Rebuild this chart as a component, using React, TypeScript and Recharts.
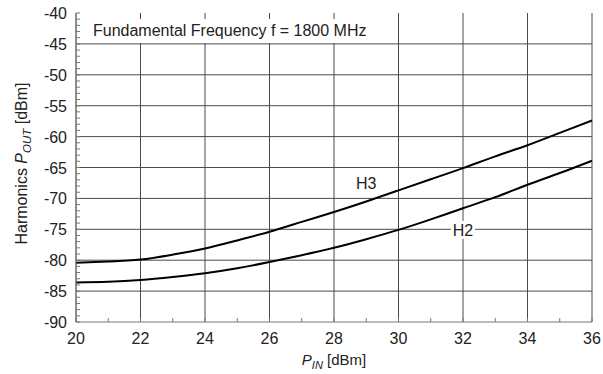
import { LineChart, Line, XAxis, YAxis, CartesianGrid, ReferenceDot, ReferenceLine } from 'recharts';

// P_IN [dBm]
const pin = [20, 21, 22, 23, 24, 25, 26, 27, 28, 29, 30, 31, 32, 33, 34, 35, 36];
// harmonic output levels [dBm]
const h2 = [-83.6, -83.5, -83.2, -82.7, -82.1, -81.3, -80.3, -79.2, -78.0, -76.6, -75.1, -73.4, -71.6, -69.8, -67.8, -65.9, -63.9];
const h3 = [-80.4, -80.2, -79.9, -79.1, -78.1, -76.8, -75.4, -73.8, -72.2, -70.5, -68.7, -66.9, -65.1, -63.2, -61.4, -59.4, -57.4];

const xMajor = [20, 22, 24, 26, 28, 30, 32, 34, 36];
const yMajor = [-90, -85, -80, -75, -70, -65, -60, -55, -50, -45, -40];
const xMinor = pin;
const yMinor = Array.from({ length: 51 }, (_, i) => -90 + i);

const data = pin.map((p, i) => ({ pin: p, h2: h2[i], h3: h3[i] }));

const FONT = '"Liberation Sans", Arial, sans-serif';
const GRID = '#4a4a4a';
const FRAME = '#777';

const BottomTick = ({ x, y, payload }: any) => {
  const v = payload.value;
  return (
    <g>
      <line x1={x} x2={x} y1={y} y2={y - 4} stroke={FRAME} />
      {v % 2 === 0 && (
        <text x={x} y={y + 22} textAnchor="middle" fontSize={16} fontFamily={FONT} fill="#222">
          {v}
        </text>
      )}
    </g>
  );
};

const LeftTick = ({ x, y, payload }: any) => {
  const v = payload.value;
  return (
    <g>
      <line x1={x} x2={x + 4} y1={y} y2={y} stroke={FRAME} />
      {v % 5 === 0 && (
        <text x={x - 9} y={y + 6} textAnchor="end" fontSize={16} fontFamily={FONT} fill="#222">
          {v}
        </text>
      )}
    </g>
  );
};

const TopTick = ({ x, y }: any) => <line x1={x} x2={x} y1={y} y2={y + 4} stroke={FRAME} />;
const RightTick = ({ x, y }: any) => <line x1={x} x2={x - 4} y1={y} y2={y} stroke={FRAME} />;

const XTitle = ({ viewBox }: any) => (
  <text x={viewBox.x + viewBox.width / 2} y={viewBox.y + 43} textAnchor="middle" fontSize={15} fontFamily={FONT} fill="#222">
    <tspan fontStyle="italic">P</tspan>
    <tspan fontStyle="italic" fontSize={11} dy={4}>IN</tspan>
    <tspan dy={-4}> [dBm]</tspan>
  </text>
);

const YTitle = ({ viewBox }: any) => {
  const cx = 27;
  const cy = viewBox.y + viewBox.height / 2 - 4;
  return (
    <text x={cx} y={cy} transform={`rotate(-90, ${cx}, ${cy})`} textAnchor="middle" fontSize={16} fontFamily={FONT} fill="#222">
      Harmonics <tspan fontStyle="italic">P</tspan>
      <tspan fontStyle="italic" fontSize={11.5} dy={4}>OUT</tspan>
      <tspan dy={-4}> [dBm]</tspan>
    </text>
  );
};

const CurveLabel = (text: string) => ({ viewBox }: any) => (
  <g>
    <rect x={viewBox.x - 12} y={viewBox.y - 9} width={24} height={18} fill="#fff" />
    <text x={viewBox.x} y={viewBox.y + 6} textAnchor="middle" fontSize={16} fontFamily={FONT} fill="#222">
      {text}
    </text>
  </g>
);

export default function App() {
  return (
    <div style={{ position: 'absolute', left: 0, top: 0, width: 603, height: 374, background: '#fff' }}>
      <LineChart width={603} height={374} data={data} margin={{ top: 13, right: 11, bottom: 0, left: 0 }}>
        <XAxis xAxisId="gx" dataKey="pin" type="number" domain={[20, 36]} ticks={xMajor} hide />
        <CartesianGrid xAxisId="gx" stroke={GRID} strokeWidth={1} horizontal={false} />
        <XAxis
          dataKey="pin"
          type="number"
          domain={[20, 36]}
          ticks={xMinor}
          interval={0}
          height={52}
          tickSize={0}
          tickMargin={0}
          tickLine={false}
          tick={<BottomTick />}
          axisLine={{ stroke: FRAME }}
          label={<XTitle />}
        />
        <YAxis
          type="number"
          domain={[-90, -40]}
          ticks={yMinor}
          interval={0}
          width={76}
          tickSize={0}
          tickMargin={0}
          tickLine={false}
          tick={<LeftTick />}
          axisLine={{ stroke: FRAME }}
          label={<YTitle />}
        />
        <XAxis
          xAxisId="top"
          orientation="top"
          dataKey="pin"
          type="number"
          domain={[20, 36]}
          ticks={xMinor}
          interval={0}
          height={0}
          tickSize={0}
          tickMargin={0}
          tickLine={false}
          tick={<TopTick />}
          axisLine={{ stroke: FRAME }}
        />
        <YAxis
          yAxisId="right"
          orientation="right"
          type="number"
          domain={[-90, -40]}
          ticks={yMinor}
          interval={0}
          width={0}
          tickSize={0}
          tickMargin={0}
          tickLine={false}
          tick={<RightTick />}
          axisLine={{ stroke: FRAME }}
        />
        {yMajor.slice(1, -1).map((v) => (
          <ReferenceLine key={v} y={v} stroke={GRID} strokeWidth={1} />
        ))}
        <Line dataKey="h3" type="natural" stroke="#000" strokeWidth={2} dot={false} isAnimationActive={false} />
        <Line dataKey="h2" type="natural" stroke="#000" strokeWidth={2} dot={false} isAnimationActive={false} />
        <ReferenceDot x={29} y={-67.5} r={0} label={CurveLabel('H3')} />
        <ReferenceDot x={32} y={-75.1} r={0} label={CurveLabel('H2')} />
      </LineChart>
      <div
        style={{
          position: 'absolute',
          left: 86,
          top: 19,
          padding: '1px 7px',
          background: '#fff',
          fontFamily: FONT,
          fontSize: 16,
          lineHeight: '22px',
          color: '#222',
          whiteSpace: 'nowrap',
        }}
      >
        Fundamental Frequency f = 1800 MHz
      </div>
    </div>
  );
}
